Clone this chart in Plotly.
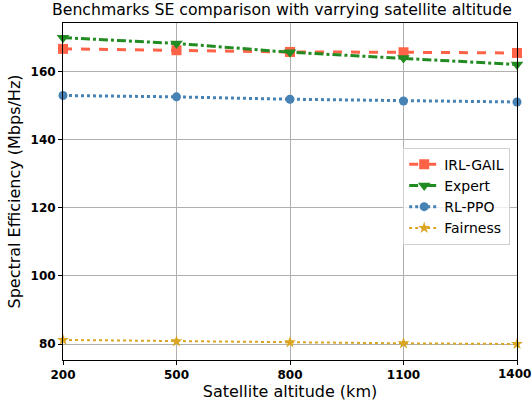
import plotly.graph_objects as go

altitudes = ["200", "500", "800", "1100", "1400"]
irl_gail = [166.7, 166.3, 165.8, 165.7, 165.5]
expert = [170.0, 168.3, 165.7, 164.0, 162.1]
rl_ppo = [153.0, 152.6, 151.9, 151.4, 151.1]
fairness = [81.2, 80.8, 80.5, 80.2, 80.0]

xi = list(range(len(altitudes)))

fig = go.Figure()
fig.add_trace(go.Scatter(x=xi, y=irl_gail, name="IRL-GAIL", mode="lines+markers",
                         line=dict(color="#FF6347", width=3, dash="dash"),
                         marker=dict(symbol="square", size=10, color="#FF6347"), cliponaxis=False))
fig.add_trace(go.Scatter(x=xi, y=expert, name="Expert", mode="lines+markers",
                         line=dict(color="#228B22", width=3, dash="dashdot"),
                         marker=dict(symbol="triangle-down", size=11, color="#228B22"), cliponaxis=False))
fig.add_trace(go.Scatter(x=xi, y=rl_ppo, name="RL-PPO", mode="lines+markers",
                         line=dict(color="#4682B4", width=3, dash="dot"),
                         marker=dict(symbol="circle", size=9, color="#4682B4"), cliponaxis=False))
fig.add_trace(go.Scatter(x=xi, y=fairness, name="Fairness", mode="lines+markers",
                         line=dict(color="#DAA520", width=2, dash="dot"),
                         marker=dict(symbol="star", size=9, color="#DAA520"), cliponaxis=False))

# last tick label drawn as annotation so it is not dropped at the page edge
fig.add_annotation(x=xi[-1], xref="x", y=0, yref="paper", yshift=-5, xshift=-3,
                   text="<b>" + altitudes[-1] + "</b>", showarrow=False,
                   xanchor="center", yanchor="top", font=dict(size=12, color="black"))

fig.update_layout(
    width=532, height=409,
    margin=dict(l=63, r=15, t=23, b=46),
    paper_bgcolor="white", plot_bgcolor="white",
    font=dict(family="DejaVu Sans", color="black"),
    title=dict(text="Benchmarks SE comparison with varrying satellite altitude",
               x=0.53, xanchor="center", y=0.99, yanchor="top", font=dict(size=15.7)),
    xaxis=dict(range=[0, 4], tickvals=xi, ticktext=altitudes,
               tickfont=dict(size=12, weight="bold"),
               title=dict(text="Satellite altitude (km)", font=dict(size=16), standoff=3),
               showgrid=True, gridcolor="#b0b0b0", gridwidth=1,
               showline=True, linecolor="black", linewidth=1, mirror=True,
               ticks="outside", ticklen=4, tickcolor="black", zeroline=False),
    yaxis=dict(range=[75.3, 174.3], tickvals=[80, 100, 120, 140, 160],
               tickfont=dict(size=12, weight="bold"),
               title=dict(text="Spectral Efficiency (Mbps/Hz)", font=dict(size=16), standoff=5),
               showgrid=True, gridcolor="#b0b0b0", gridwidth=1,
               showline=True, linecolor="black", linewidth=1, mirror=True,
               ticks="outside", ticklen=4, tickcolor="black", zeroline=False),
    legend=dict(x=0.985, xanchor="right", y=0.63, yanchor="top",
                bgcolor="rgba(255,255,255,0.8)", bordercolor="#d0d0d0", borderwidth=1,
                font=dict(size=14), tracegroupgap=0, itemwidth=30),
    showlegend=True,
)

fig.write_html("out.html")
